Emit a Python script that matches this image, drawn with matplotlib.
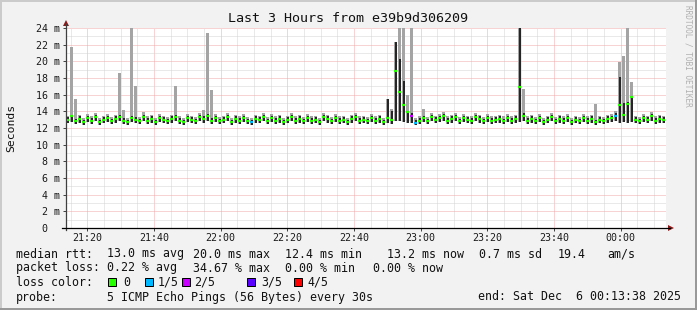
import matplotlib
matplotlib.use('Agg')
import matplotlib.pyplot as plt
import matplotlib.dates as mdates
import matplotlib.ticker as mticker
from matplotlib.lines import Line2D
from matplotlib.patches import Polygon, Rectangle
from datetime import datetime, timedelta

W, H = 697, 310
start = datetime(2025, 12, 5, 21, 13, 38)
end = datetime(2025, 12, 6, 0, 13, 38)
step_s = 72

median = [
    13.0, 13.4, 12.8, 13.1, 12.7, 13.2, 12.9, 13.3, 12.7, 13.0, 13.2, 12.8, 13.1, 13.3, 12.9,
    12.7, 13.2, 13.0, 12.8, 13.3, 12.9, 13.1, 12.7, 13.2, 13.0, 12.8, 13.1, 13.3, 12.9, 12.7,
    13.2, 13.0, 12.8, 13.3, 13.1, 13.4, 12.9, 13.2, 12.8, 13.0, 13.3, 12.7, 13.1, 12.9, 13.2,
    12.8, 12.7, 13.1, 13.0, 13.3, 12.8, 13.2, 12.9, 13.1, 12.7, 13.0, 13.3, 12.9, 13.1, 12.8,
    13.2, 12.9, 13.0, 12.7, 13.3, 13.1, 12.8, 13.2, 12.9, 13.0, 12.7, 13.1, 13.3, 12.9, 13.0,
    12.8, 13.2, 12.9, 13.1, 12.7, 13.2, 13.0, 18.8, 16.3, 14.8, 13.9, 13.4, 12.6, 12.9, 13.2,
    12.8, 13.3, 13.0, 13.2, 13.4, 12.9, 13.1, 13.3, 12.8, 13.2, 13.0, 12.9, 13.3, 13.1, 12.8,
    13.2, 12.9, 13.0, 13.1, 12.8, 13.2, 12.9, 13.1, 16.9, 13.4, 12.9, 13.1, 12.8, 13.2, 12.7,
    13.0, 13.3, 12.8, 13.1, 12.9, 13.2, 12.7, 13.0, 12.8, 13.2, 12.9, 13.1, 12.7, 13.0, 12.8,
    13.1, 13.2, 13.4, 14.8, 13.6, 14.9, 15.7, 13.0, 12.8, 13.2, 13.0, 13.4, 12.9, 13.1, 13.0,
]
ping_lo = [
    12.6, 12.7, 12.5, 12.6, 12.4, 12.7, 12.5, 12.8, 12.4, 12.6, 12.7, 12.5, 12.6, 12.8, 12.5,
    12.4, 12.7, 12.6, 12.5, 12.8, 12.5, 12.6, 12.4, 12.7, 12.6, 12.5, 12.6, 12.8, 12.5, 12.4,
    12.7, 12.6, 12.5, 12.8, 12.6, 12.8, 12.5, 12.7, 12.5, 12.6, 12.8, 12.4, 12.6, 12.5, 12.7,
    12.5, 12.4, 12.6, 12.6, 12.8, 12.5, 12.7, 12.5, 12.6, 12.4, 12.6, 12.8, 12.5, 12.6, 12.5,
    12.7, 12.5, 12.6, 12.4, 12.8, 12.6, 12.5, 12.7, 12.5, 12.6, 12.4, 12.6, 12.8, 12.5, 12.6,
    12.5, 12.7, 12.5, 12.6, 12.4, 12.6, 12.5, 12.8, 12.9, 12.7, 12.6, 12.6, 12.4, 12.5, 12.7,
    12.5, 12.8, 12.6, 12.7, 12.8, 12.5, 12.6, 12.8, 12.5, 12.7, 12.6, 12.5, 12.8, 12.6, 12.5,
    12.7, 12.5, 12.6, 12.6, 12.5, 12.7, 12.5, 12.6, 12.7, 12.8, 12.5, 12.6, 12.5, 12.7, 12.4,
    12.6, 12.8, 12.5, 12.6, 12.5, 12.7, 12.4, 12.6, 12.5, 12.7, 12.5, 12.6, 12.4, 12.6, 12.5,
    12.6, 12.7, 12.8, 12.6, 12.7, 12.6, 12.7, 12.6, 12.5, 12.7, 12.6, 12.8, 12.5, 12.6, 12.6,
]
ping_hi = [
    13.3, 13.6, 13.1, 13.4, 13.0, 13.5, 13.2, 13.6, 13.0, 13.3, 13.5, 13.1, 13.4, 13.6, 13.2,
    13.0, 13.5, 13.3, 13.1, 13.6, 13.2, 13.4, 13.0, 13.5, 13.3, 13.1, 13.4, 13.6, 13.2, 13.0,
    13.5, 13.3, 13.1, 13.6, 13.4, 13.7, 13.2, 13.5, 13.1, 13.3, 13.6, 13.0, 13.4, 13.2, 13.5,
    13.1, 13.0, 13.4, 13.3, 13.6, 13.1, 13.5, 13.2, 13.4, 13.0, 13.3, 13.6, 13.2, 13.4, 13.1,
    13.5, 13.2, 13.3, 13.0, 13.6, 13.4, 13.1, 13.5, 13.2, 13.3, 13.0, 13.4, 13.6, 13.2, 13.3,
    13.1, 13.5, 13.2, 13.4, 13.0, 15.5, 14.0, 22.3, 20.3, 17.6, 14.0, 13.8, 13.0, 13.2, 13.5,
    13.1, 13.6, 13.3, 13.5, 13.7, 13.2, 13.4, 13.6, 13.1, 13.5, 13.3, 13.2, 13.6, 13.4, 13.1,
    13.5, 13.2, 13.3, 13.4, 13.1, 13.5, 13.2, 13.4, 25.0, 13.8, 13.2, 13.4, 13.1, 13.5, 13.0,
    13.3, 13.6, 13.1, 13.4, 13.2, 13.5, 13.0, 13.3, 13.1, 13.5, 13.2, 13.4, 13.0, 13.3, 13.1,
    13.4, 13.5, 13.8, 18.1, 15.0, 15.1, 15.8, 13.3, 13.1, 13.5, 13.3, 13.7, 13.2, 13.4, 13.3,
]
ping_max = [
    13.5, 21.7, 15.5, 13.6, 13.2, 13.7, 13.4, 13.8, 13.2, 13.5, 13.7, 13.3, 13.6, 18.6, 14.2,
    13.2, 25.0, 17.1, 13.3, 13.9, 13.4, 13.6, 13.2, 13.7, 13.5, 13.3, 13.6, 17.0, 13.4, 13.2,
    13.7, 13.5, 13.3, 13.8, 14.2, 23.4, 16.6, 13.7, 13.3, 13.5, 13.8, 13.2, 13.6, 13.4, 13.7,
    13.3, 13.2, 13.6, 13.5, 13.8, 13.3, 13.7, 13.4, 13.6, 13.2, 13.5, 13.8, 13.4, 13.6, 13.3,
    13.7, 13.4, 13.5, 13.2, 13.8, 13.6, 13.3, 13.7, 13.4, 13.5, 13.2, 13.6, 13.8, 13.4, 13.5,
    13.3, 13.7, 13.4, 13.6, 13.2, 15.5, 14.3, 22.3, 25.0, 25.0, 16.0, 25.0, 13.2, 13.4, 14.3,
    13.3, 13.8, 13.5, 13.7, 13.9, 13.4, 13.6, 13.8, 13.3, 13.7, 13.5, 13.4, 13.8, 13.6, 13.3,
    13.7, 13.4, 13.5, 13.6, 13.4, 13.7, 13.4, 13.6, 25.0, 16.7, 13.4, 13.6, 13.3, 13.7, 13.2,
    13.5, 13.8, 13.3, 13.6, 13.4, 13.7, 13.2, 13.5, 13.3, 13.7, 13.4, 13.6, 14.9, 13.5, 13.3,
    13.6, 13.7, 14.0, 19.9, 20.6, 25.0, 17.5, 13.5, 13.3, 13.7, 13.5, 13.9, 13.4, 13.6, 13.5,
]
loss_idx = [46, 86, 87, 137]
loss_lvl = [1, 2, 1, 1]
loss_labels = ['0', '1/5', '2/5', '3/5', '4/5']
loss_colors = ['#26ff00', '#00b8ff', '#c800ff', '#5a00ff', '#ff0000']
y_ticks = list(range(0, 25, 2))
title = 'Last 3 Hours from e39b9d306209'
ylabel = 'Seconds'
row_rtt = [(16, 'median rtt:'), (107, '13.0 ms avg'), (193, '20.0 ms max'), (285, '12.4 ms min'),
           (387, '13.2 ms now'), (479, '0.7 ms sd'), (558, '19.4'), (607, 'am/s')]
row_loss = [(16, 'packet loss:'), (107, '0.22 % avg'), (193, '34.67 % max'), (285, '0.00 % min'),
            (373, '0.00 % now')]
row_probe = [(16, 'probe:'), (107, '5 ICMP Echo Pings (56 Bytes) every 30s'),
             (478, 'end: Sat Dec  6 00:13:38 2025')]

MONO = 'DejaVu Sans Mono'
BG = '#f2f2f2'

fig = plt.figure(figsize=(W / 100, H / 100), dpi=100, facecolor=BG)
L, R, T, B = 66, 666, 28, 228
ax = fig.add_axes([L / W, 1 - B / H, (R - L) / W, (B - T) / H])
ax.set_facecolor('white')

N = len(median)
times = [start + timedelta(seconds=step_s * i) for i in range(N)]
x = mdates.date2num(times)
wd = step_s / 86400.0

# light smoke (min to max ping)
ax.bar(x + wd * 0.12, [m - l for m, l in zip(ping_max, ping_lo)], bottom=ping_lo, width=wd * 0.7,
       align='edge', color='#a4a4a4', linewidth=0, zorder=2)
# dark smoke
ax.bar(x + wd * 0.28, [h - l for h, l in zip(ping_hi, ping_lo)], bottom=ping_lo, width=wd * 0.4,
       align='edge', color='#262626', linewidth=0, zorder=3)
# median coloured by loss
cols = [loss_colors[0]] * N
for i, lv in zip(loss_idx, loss_lvl):
    cols[i] = loss_colors[lv]
ax.hlines(median, x + wd * 0.1, x + wd * 0.8, colors=cols, linewidth=1.5, zorder=4)

ax.set_xlim(mdates.date2num(start), mdates.date2num(end))
ax.set_ylim(0, 24)
ax.xaxis.set_major_locator(mdates.MinuteLocator(byminute=[0, 20, 40]))
ax.xaxis.set_minor_locator(mdates.MinuteLocator(byminute=list(range(0, 60, 5))))
ax.xaxis.set_major_formatter(mdates.DateFormatter('%H:%M'))
ax.set_yticks(y_ticks)
ax.yaxis.set_minor_locator(mticker.MultipleLocator(1))
ax.set_yticklabels([('%d m' % v) if v else '0  ' for v in y_ticks])

ax.grid(which='major', color='#f0a8a8', linewidth=0.72, linestyle=(0, (1, 1)), zorder=0)
ax.grid(which='minor', color='#d4d4d4', linewidth=0.72, linestyle=(0, (1, 1)), zorder=0)
ax.set_axisbelow(True)

for s in ['top', 'right', 'left', 'bottom']:
    ax.spines[s].set_visible(False)
ax.tick_params(which='major', length=2, width=0.72, color='#444444', pad=1.8,
               labelsize=7.2, labelfontfamily=MONO, labelcolor='#1a1a1a')
ax.tick_params(axis='y', pad=2.6)
ax.tick_params(which='minor', length=0)


def fx(px):
    return px / W


def fy(py):
    return 1 - py / H


# axes lines and arrows
fig.add_artist(Line2D([fx(L), fx(L)], [fy(B + 2), fy(24)], transform=fig.transFigure,
                      color='#404040', linewidth=0.9))
fig.add_artist(Line2D([fx(L - 4), fx(670)], [fy(B), fy(B)], transform=fig.transFigure,
                      color='#000000', linewidth=0.9))
ARW = '#8b1a1a'
fig.add_artist(Polygon([[fx(63), fy(26)], [fx(69), fy(26)], [fx(66), fy(20)]],
                       closed=True, transform=fig.transFigure, color=ARW, linewidth=0))
fig.add_artist(Polygon([[fx(668), fy(B - 3)], [fx(668), fy(B + 3)], [fx(674), fy(B)]],
                       closed=True, transform=fig.transFigure, color=ARW, linewidth=0))

# border
fig.add_artist(Line2D([0, 1], [fy(1), fy(1)], transform=fig.transFigure, color='#cbcbcb', linewidth=1.44))
fig.add_artist(Line2D([fx(1), fx(1)], [0, 1], transform=fig.transFigure, color='#cbcbcb', linewidth=1.44))
fig.add_artist(Line2D([0, 1], [fy(H - 1), fy(H - 1)], transform=fig.transFigure, color='#999999', linewidth=1.44))
fig.add_artist(Line2D([fx(W - 1), fx(W - 1)], [0, 1], transform=fig.transFigure, color='#999999', linewidth=1.44))

# texts
fig.text(fx(348), fy(19), title, ha='center', va='center', fontfamily=MONO, fontsize=9.6, color='#111111')
fig.text(fx(11), fy(128), ylabel, ha='center', va='center', rotation=90, fontfamily=MONO,
         fontsize=8.2, color='#111111')
fig.text(fx(688), fy(5), 'RRDTOOL / TOBI OETIKER', ha='center', va='top', rotation=270,
         fontfamily=MONO, fontsize=5.6, color='#b0b0b0')

FS = 8.4
for px, s in row_rtt:
    fig.text(fx(px), fy(254), s, ha='left', va='center', fontfamily=MONO, fontsize=FS, color='#111111')
for px, s in row_loss:
    fig.text(fx(px), fy(268), s, ha='left', va='center', fontfamily=MONO, fontsize=FS, color='#111111')
for px, s in row_probe:
    fig.text(fx(px), fy(297), s, ha='left', va='center', fontfamily=MONO, fontsize=FS, color='#111111')

fig.text(fx(16), fy(282), 'loss color:', ha='left', va='center', fontfamily=MONO, fontsize=FS, color='#111111')
sq_x = [108, 145, 182, 247, 294]
lab_x = [123, 158, 194, 261, 307]
for sx, lx, lab, c in zip(sq_x, lab_x, loss_labels, loss_colors):
    fig.add_artist(Rectangle((fx(sx), fy(286)), 8 / W, 8 / H, transform=fig.transFigure,
                             facecolor=c, edgecolor='#000000', linewidth=0.72))
    fig.text(fx(lx), fy(282), lab, ha='left', va='center', fontfamily=MONO, fontsize=FS, color='#111111')

fig.savefig('out.png', dpi=100, facecolor=BG)
